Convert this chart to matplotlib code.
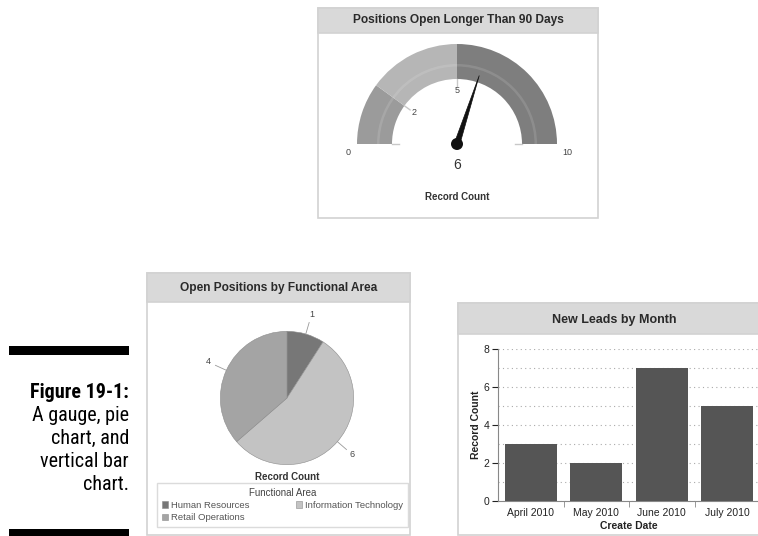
import numpy as np
import matplotlib.pyplot as plt
from matplotlib.patches import Rectangle, Wedge, Circle, Polygon

W, H = 758, 536

# gauge
gauge_bands = [0, 2, 5, 10]
gauge_colors = ['#9b9b9b', '#b6b6b6', '#7e7e7e']
gauge_value = 6

# pie
pie_labels = ['Human Resources', 'Information Technology', 'Retail Operations']
pie_values = [1, 6, 4]
pie_colors = ['#777777', '#c3c3c3', '#a4a4a4']

# bars
months = ['April 2010', 'May 2010', 'June 2010', 'July 2010']
leads = [3, 2, 7, 5]

caption = ['Figure 19-1:', 'A gauge, pie', 'chart, and', 'vertical bar', 'chart.']

plt.rcParams['font.family'] = ['Liberation Sans', 'DejaVu Sans']

fig = plt.figure(figsize=(W / 100, H / 100), dpi=100)


def box(x0, y0, x1, y1):
    # pixel box (top-left origin) -> figure fraction rect
    return [x0 / W, 1 - y1 / H, (x1 - x0) / W, (y1 - y0) / H]


def panel(x0, y0, x1, y1, bar_h, title, size, dy=0):
    r = box(x0, y0, x1, y1)
    fig.patches.append(Rectangle((r[0], r[1]), r[2], r[3], transform=fig.transFigure,
                                 fc='white', ec='#d2d2d2', lw=1.2, zorder=-2))
    r = box(x0, y0, x1, y0 + bar_h)
    fig.patches.append(Rectangle((r[0], r[1]), r[2], r[3], transform=fig.transFigure,
                                 fc='#d9d9d9', ec='#d2d2d2', lw=1.2, zorder=-1))
    fig.text((x0 + x1) / 2 / W, 1 - (y0 + bar_h / 2 + dy) / H, title, ha='center', va='center',
             fontsize=size, fontweight='bold', color='#2a2a2a')


panel(318, 8, 598, 218, 25, 'Positions Open Longer Than 90 Days', 8.6)
panel(147, 273, 410, 535, 29, 'Open Positions by Functional Area', 8.6)
panel(458, 303, 770, 535, 31, 'New Leads by Month', 9, dy=2)

# ---- gauge ----
ax = fig.add_axes(box(317, 9, 597, 219))
ax.set_xlim(-1.4, 1.4)
ax.set_ylim(-0.75, 1.35)
ax.axis('off')


def ang(v):
    return 180 - 180 * v / gauge_bands[-1]


for i in range(len(gauge_colors)):
    ax.add_patch(Wedge((0, 0), 1.0, ang(gauge_bands[i + 1]), ang(gauge_bands[i]),
                       width=0.35, fc=gauge_colors[i], ec='none'))
ax.add_patch(Wedge((0, 0), 0.80, 0, 180, width=0.025, fc='white', alpha=0.12, ec='none'))
for v in gauge_bands:
    a = np.radians(ang(v))
    ax.plot([0.58 * np.cos(a), 0.65 * np.cos(a)], [0.58 * np.sin(a), 0.65 * np.sin(a)],
            color='#c8c8c8', lw=1)
for v in gauge_bands[1:-1]:
    a = np.radians(ang(v))
    ax.text(0.53 * np.cos(a), 0.53 * np.sin(a), str(v), ha='center', va='center',
            fontsize=6.5, color='#444444')
ax.text(-1.09, -0.09, str(gauge_bands[0]), ha='center', va='center', fontsize=6.5, color='#444444')
ax.text(1.1, -0.09, str(gauge_bands[-1]), ha='center', va='center', fontsize=6.5, color='#444444')

a = np.radians(ang(gauge_value))
p = np.array([-np.sin(a), np.cos(a)]) * 0.028
tip = np.array([np.cos(a), np.sin(a)]) * 0.72
ax.add_patch(Polygon([p, tip, -p], closed=True, fc='#111111', ec='#111111', lw=0.5))
ax.add_patch(Circle((0, 0), 0.06, fc='#111111', ec='none'))
ax.text(0, -0.21, str(gauge_value), ha='center', va='center', fontsize=10, color='#333333')
ax.text(0, -0.53, 'Record Count', ha='center', va='center', fontsize=7, fontweight='bold', color='#333333')

# ---- pie ----
ax = fig.add_axes(box(187, 298, 387, 498))
wedges, _ = ax.pie(pie_values, colors=pie_colors, startangle=90, counterclock=False,
                   radius=1, wedgeprops=dict(ec='#8c8c8c', lw=0.4))
ax.set_xlim(-1.5, 1.5)
ax.set_ylim(-1.5, 1.5)
ax.axis('off')
for w, v in zip(wedges, pie_values):
    m = np.radians((w.theta1 + w.theta2) / 2)
    c, s = np.cos(m), np.sin(m)
    ax.plot([c, 1.18 * c], [s, 1.18 * s], color='#999999', lw=0.6)
    ax.text(1.3 * c, 1.3 * s, str(v), ha='center', va='center', fontsize=6.5, color='#444444')
ax.text(0, -1.18, 'Record Count', ha='center', va='center', fontsize=7, fontweight='bold', color='#333333')

order = [0, 2, 1]
leg = ax.legend([wedges[i] for i in order], [pie_labels[i] for i in order], ncol=2,
                title='Functional Area', loc='upper left',
                bbox_to_anchor=box(157, 483, 408, 530), bbox_transform=fig.transFigure,
                mode='expand', borderaxespad=0, fontsize=6.8, title_fontsize=7,
                fancybox=False, edgecolor='#d2d2d2', handlelength=0.7, handleheight=0.7,
                handletextpad=0.3, labelspacing=0.35, borderpad=0.5, labelcolor='#555555')
leg.get_frame().set_linewidth(1.0)
leg.get_title().set_color('#444444')

# ---- bars ----
ax = fig.add_axes(box(498, 349, 760, 501))
x = np.arange(len(months))
ax.bar(x, leads, width=0.8, color='#555555', zorder=3)
ax.set_xlim(-0.5, len(months) - 0.5)
ax.set_ylim(0, 8)
ax.set_yticks([0, 2, 4, 6, 8])
ax.set_yticks(range(1, 8), minor=True)
ax.grid(axis='y', which='both', linestyle=(0, (1, 3)), color='#aaaaaa', lw=0.8)
ax.set_axisbelow(True)
ax.set_xticks(x)
ax.set_xticklabels(months)
ax.set_xticks(x[:-1] + 0.5, minor=True)
ax.tick_params(axis='x', which='major', length=0, labelsize=7.5, colors='#222222', pad=5)
ax.tick_params(axis='x', which='minor', length=4, color='#888888')
ax.tick_params(axis='y', which='major', length=4, labelsize=7.5, colors='#222222', pad=2)
ax.tick_params(axis='y', which='minor', length=0)
for side in ['top', 'right']:
    ax.spines[side].set_visible(False)
for side in ['left', 'bottom']:
    ax.spines[side].set_color('#888888')
ax.set_xlabel('Create Date', fontsize=7.5, fontweight='bold', labelpad=2, color='#222222')
ax.set_ylabel('Record Count', fontsize=7.5, fontweight='bold', labelpad=2, color='#222222')

# ---- caption ----
for y0 in [346, 529]:
    r = box(9, y0, 129, y0 + 9)
    fig.patches.append(Rectangle((r[0], r[1]), r[2], r[3], transform=fig.transFigure,
                                 fc='black', ec='none'))
for i, line in enumerate(caption):
    fig.text(129 / W, 1 - (398 + 23 * i) / H, line, ha='right', va='baseline',
             fontsize=14.5, fontweight='bold' if i == 0 else 'normal',
             family=['Roboto Condensed', 'DejaVu Sans Condensed', 'Liberation Sans Narrow',
                     'Roboto'],
             fontstretch='condensed', color='black')

fig.savefig('out.png', dpi=100)
